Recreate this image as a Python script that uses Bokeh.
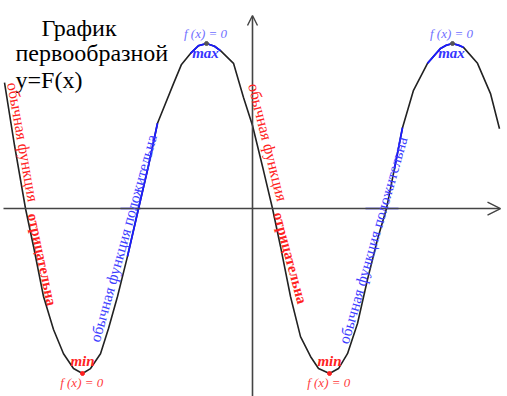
import numpy as np
from bokeh.plotting import figure
from bokeh.models import Range1d, Label, Arrow, OpenHead
from bokeh.embed import file_html
from bokeh.resources import INLINE

# curve F(x)
curve_x = [-6.2, -5.95, -5.675, -5.475, -5.225, -4.975, -4.725, -4.475, -4.25, -4.05, -3.8, -3.6,
           -3.375, -3.125, -2.85, -2.6, -2.375, -1.975, -1.775, -1.55, -1.35, -1.15, -0.95, -0.8,
           -0.475, -0.225, 0.0,
           0.275, 0.5, 0.7, 0.95, 1.2, 1.45, 1.65, 1.925, 2.15, 2.375, 2.625, 2.875, 3.125, 3.35,
           3.55, 3.75, 4.025, 4.375, 4.7, 4.85, 5.0, 5.15, 5.275, 5.625, 5.95, 6.175]
curve_y = [2.29, 1.15, 0.0, -0.69, -1.6, -2.2, -2.64, -2.91, -3.0, -2.91, -2.64, -2.18,
           -1.6, -0.87, 0.0, 0.78, 1.55, 2.27, 2.62, 2.82, 2.96, 3.0, 2.95, 2.87,
           2.64, 2.02, 1.51,
           0.69, 0.0, -0.69, -1.6, -2.33, -2.69, -2.91, -3.0, -2.91, -2.64, -2.09, -1.29, -0.56, 0.0,
           0.73, 1.47, 2.15, 2.64, 2.91, 2.97, 3.0, 2.97, 2.93, 2.64, 2.09, 1.45]

# highlighted stretches of the curve (x from, x to)
blue_curve_from = [-3.2, -1.6, 3.5, 4.3]
blue_curve_to = [-2.3, -0.75, 3.8, 5.3]
# highlighted stretches of the x axis
blue_axis_from = [-3.3, 2.825]
blue_axis_to = [-2.8, 3.65]

max_x = [-1.15, 5.0]
min_x = [-4.25, 1.925]
extreme_y = 3.0

title_lines = ["График", "первообразной", "y=F(x)"]
red_regular = "обычная функция "
red_bold = "отрицательна"
blue_text = "обычная функция положительна"
fx_text = "f (x) = 0"

p = figure(width=507, height=396, x_range=Range1d(-6.3, 6.375), y_range=Range1d(-3.418, 3.782),
           x_axis_type=None, y_axis_type=None, toolbar_location=None, output_backend="svg",
           min_border=0, min_border_left=0, min_border_right=0, min_border_top=0, min_border_bottom=0)
p.grid.visible = False
p.outline_line_color = None
p.background_fill_color = "white"

AX = "#444444"
p.add_layout(Arrow(end=OpenHead(size=13, line_color=AX, line_width=1.4),
                   x_start=-6.225, y_start=0, x_end=6.2, y_end=0, line_color=AX, line_width=1.6))
p.add_layout(Arrow(end=OpenHead(size=10, line_color=AX, line_width=1.4),
                   x_start=0, y_start=-3.42, x_end=0, y_end=3.51, line_color=AX, line_width=1.6))

BLUE = "#1a1aff"
for a, b in zip(blue_axis_from, blue_axis_to):
    p.line([a, b], [0, 0], line_color=BLUE, line_width=1.6)

cx = np.array(curve_x)
cy = np.array(curve_y)
p.line(cx, cy, line_color="#222222", line_width=1.6)
for a, b in zip(blue_curve_from, blue_curve_to):
    m = (cx >= a) & (cx <= b)
    p.line(cx[m], cy[m], line_color=BLUE, line_width=1.8)

p.scatter(max_x, [extreme_y] * 2, size=4, color="#555555")
p.scatter(min_x, [-extreme_y] * 2, size=4, color="#ff2020")

SERIF = "'Liberation Serif', 'Times New Roman', serif"
# title
p.add_layout(Label(x=-5.275, y=3.29, text=title_lines[0], text_font=SERIF, text_font_size="24px",
                   text_color="black", text_baseline="alphabetic"))
p.add_layout(Label(x=-5.925, y=2.82, text=title_lines[1], text_font=SERIF, text_font_size="24px",
                   text_color="black", text_baseline="alphabetic"))
p.add_layout(Label(x=-5.925, y=2.345, text=title_lines[2], text_font=SERIF, text_font_size="24px",
                   text_color="black", text_baseline="alphabetic"))

RED = "#ff2222"
BLUET = "#3d3dff"
# rotated texts along the curve
for (xa, ya, a1, xb, yb, a2) in [(-6.0, 2.29, -80, -5.5, -0.09, -78),
                                 (0.02, 2.27, -76, 0.64, -0.073, -75)]:
    p.add_layout(Label(x=xa, y=ya, text=red_regular, angle=a1, angle_units="deg", text_font=SERIF,
                       text_font_size="16px", text_color=RED, text_baseline="alphabetic"))
    p.add_layout(Label(x=xb, y=yb, text=red_bold, angle=a2, angle_units="deg", text_font=SERIF,
                       text_font_size="15px", text_font_style="bold", text_color=RED,
                       text_baseline="alphabetic"))
for (xa, ya, ang) in [(-3.95, -2.42, 74.5), (2.27, -2.45, 74)]:
    p.add_layout(Label(x=xa, y=ya, text=blue_text, angle=ang, angle_units="deg", text_font=SERIF,
                       text_font_size="15.5px", text_color=BLUET, text_baseline="alphabetic"))

# extreme labels
for mx in max_x:
    p.add_layout(Label(x=mx - 0.025, y=3.18, text=fx_text, text_font=SERIF, text_font_size="13px",
                       text_font_style="italic", text_color="#7070ff", text_align="center",
                       text_baseline="middle"))
    p.add_layout(Label(x=mx - 0.025, y=2.82, text="max", text_font=SERIF, text_font_size="15px",
                       text_font_style="bold italic", text_color="#3535ff", text_align="center",
                       text_baseline="middle"))
for mn in min_x:
    p.add_layout(Label(x=mn, y=-2.78, text="min", text_font=SERIF, text_font_size="15px",
                       text_font_style="bold italic", text_color=RED, text_align="center",
                       text_baseline="middle"))
    p.add_layout(Label(x=mn - 0.02, y=-3.16, text=fx_text, text_font=SERIF, text_font_size="13px",
                       text_font_style="italic", text_color="#ff4040", text_align="center",
                       text_baseline="middle"))

open("out.html", "w").write(file_html(p, INLINE))
